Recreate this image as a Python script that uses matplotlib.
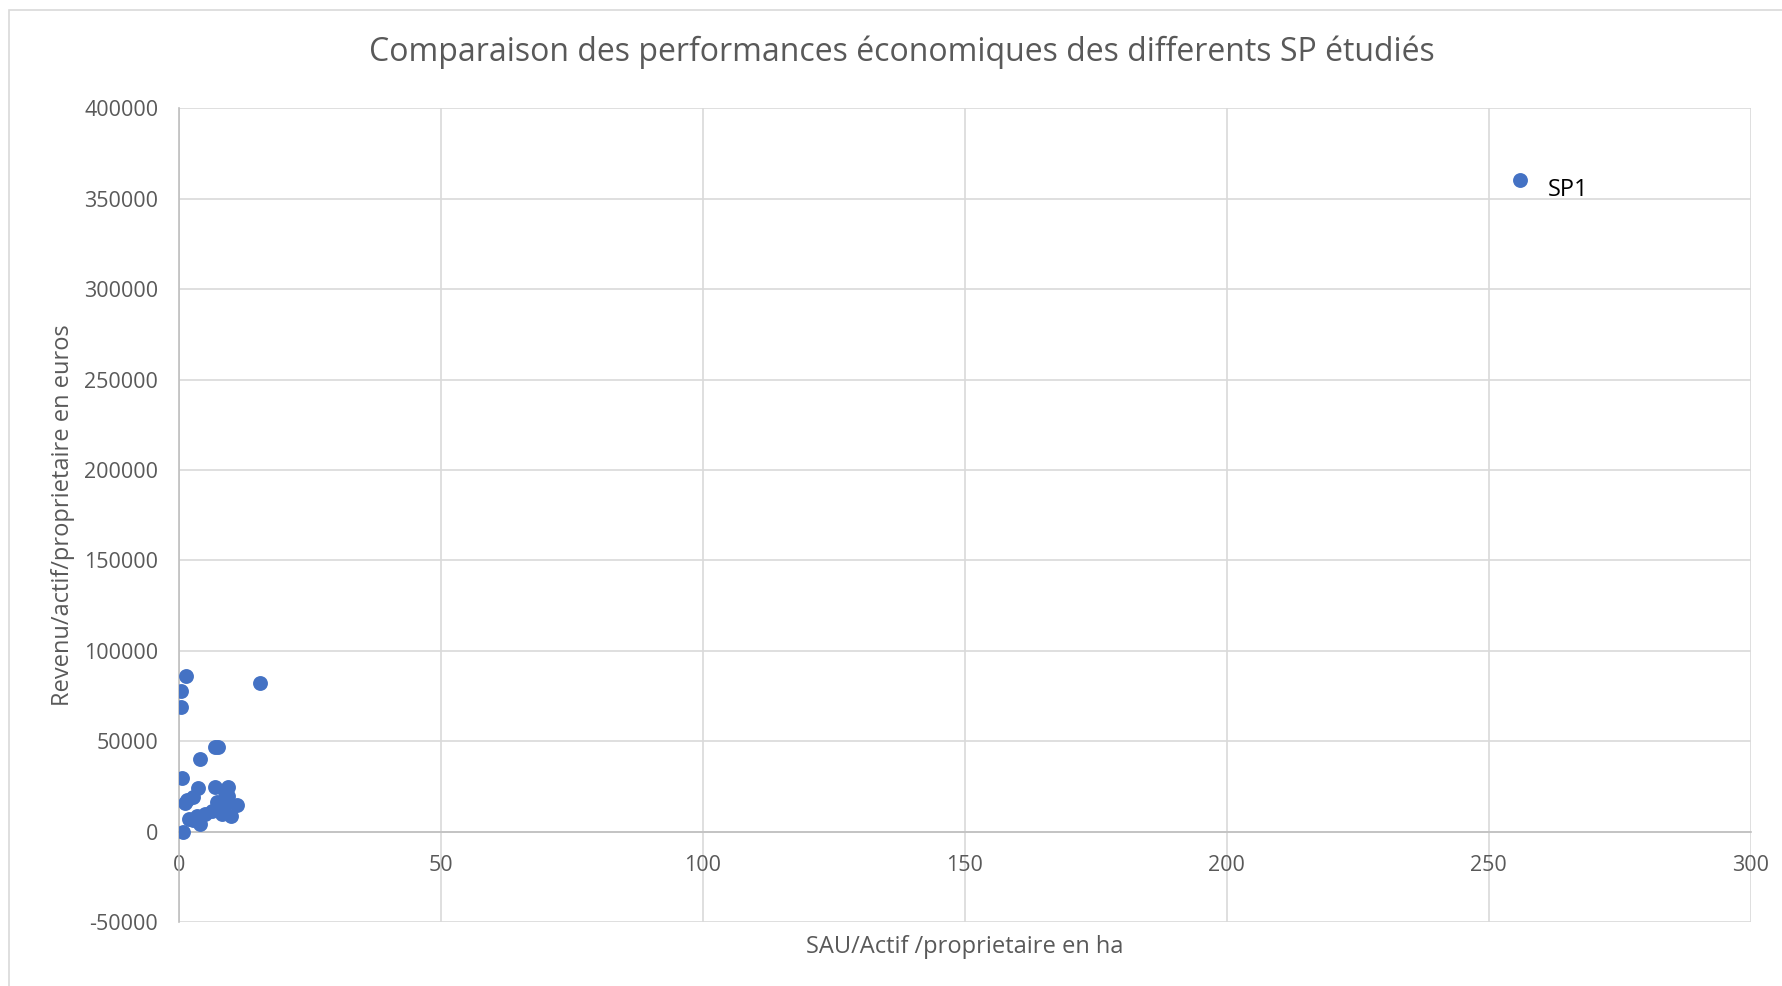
import matplotlib.pyplot as plt
from matplotlib.patches import Rectangle

# SAU par actif (ha) et revenu par actif (euros) pour chaque SP
sau_actif = [256, 1.4, 15.5, 0.4, 0.4, 6.9, 7.5, 3.9, 0.6, 3.7, 6.9, 9.4,
             1.5, 1.15, 2.7, 9.4, 11.0, 7.2, 8.5, 10.0, 8.1, 6.2, 5.0, 3.4,
             1.8, 4.0, 2.7, 0.8, 8.8]
revenu_actif = [360500, 86000, 82400, 77800, 68900, 47000, 47000, 40300,
                29400, 24000, 24400, 24400, 17600, 15600, 18900, 19800,
                14900, 16200, 14300, 8800, 9700, 11600, 9700, 8800, 7000,
                4200, 6100, 0, 21700]
etiquettes = ["SP1"] + [""] * (len(sau_actif) - 1)

gris = "#595959"
plt.rcParams['font.family'] = ['Open Sans', 'DejaVu Sans']
plt.rcParams['axes.unicode_minus'] = False

fig = plt.figure(figsize=(17.82, 9.86), dpi=100)
fig.patches.append(Rectangle((0.005, -0.01), 1.0, 1.0, transform=fig.transFigure,
                             fill=False, edgecolor="#D9D9D9", linewidth=1.2))
ax = fig.add_axes([0.1005, 0.065, 0.882, 0.825])

ax.scatter(sau_actif, revenu_actif, s=115, color="#4472C4", zorder=3, linewidths=0)
for x, y, txt in zip(sau_actif, revenu_actif, etiquettes):
    if txt:
        ax.annotate(txt, (x, y), xytext=(20, -7), textcoords="offset points",
                    fontsize=17, color="black", va="center")

ax.set_xlim(0, 300)
ax.set_ylim(-50000, 400000)
ax.set_xticks(range(0, 301, 50))
ax.set_yticks(range(-50000, 400001, 50000))
ax.grid(True, color="#D9D9D9", linewidth=1.2)
ax.set_axisbelow(True)

for s in ["top", "right"]:
    ax.spines[s].set_visible(False)
ax.spines["bottom"].set_position(("data", 0))
ax.spines["bottom"].set_color("#BFBFBF")
ax.spines["left"].set_color("#BFBFBF")
ax.spines["bottom"].set_linewidth(1.2)
ax.spines["left"].set_linewidth(1.2)
ax.tick_params(length=0, labelsize=15.5, colors=gris)
ax.tick_params(axis="y", pad=15)
ax.tick_params(axis="x", pad=17)

# titre centré sur toute la zone du graphique
fig.text(0.506, 0.947, "Comparaison des performances économiques des differents SP étudiés",
         fontsize=23, color=gris, ha="center", va="center")
ax.set_xlabel("SAU/Actif /proprietaire en ha", fontsize=17, color=gris)
ax.xaxis.set_label_coords(0.5, -0.0165)
ax.set_ylabel("Revenu/actif/proprietaire en euros", fontsize=17, color=gris)
ax.yaxis.set_label_coords(-0.066, 0.5)

fig.savefig("out.png", dpi=100)
